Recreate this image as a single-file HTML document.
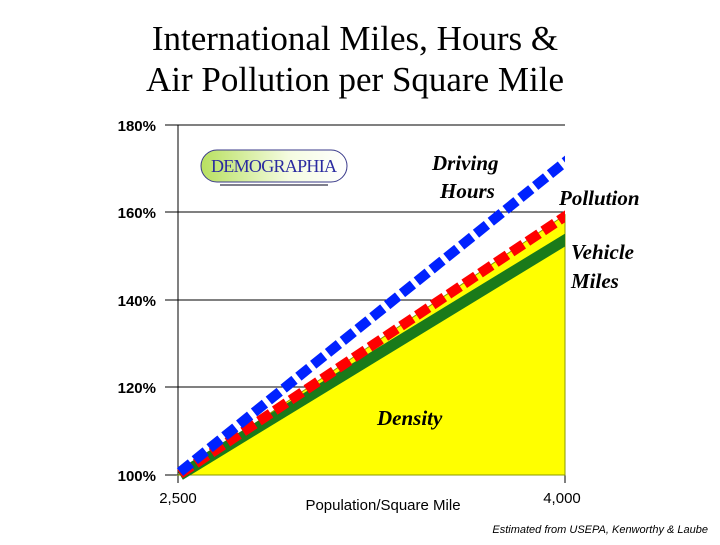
<!DOCTYPE html>
<html><head><style>
body{margin:0;background:#fff;}
</style></head><body>
<svg width="720" height="540" xmlns="http://www.w3.org/2000/svg">
<text x="355" y="50" text-anchor="middle" font-family="Liberation Serif, serif" font-size="35">International Miles, Hours &amp;</text>
<text x="355" y="91" text-anchor="middle" font-family="Liberation Serif, serif" font-size="35">Air Pollution per Square Mile</text>
<g stroke="#000" stroke-width="1">
<line x1="165" y1="125" x2="565" y2="125"/>
<line x1="165" y1="212" x2="565" y2="212"/>
<line x1="165" y1="300" x2="565" y2="300"/>
<line x1="165" y1="387" x2="565" y2="387"/>
<line x1="165" y1="475" x2="565" y2="475"/>
<line x1="178" y1="125" x2="178" y2="483"/>
<line x1="565" y1="475" x2="565" y2="483"/>
</g>
<clipPath id="c"><rect x="170" y="100" width="395" height="390"/></clipPath>
<polygon points="178,475 565,215 565,475" fill="#ffff00" stroke="#8a9a00" stroke-width="1"/>
<g clip-path="url(#c)">
<line x1="180" y1="475" x2="570" y2="237" stroke="#1a7a1a" stroke-width="11"/>
<line x1="180" y1="474" x2="570" y2="213" stroke="#ff0000" stroke-width="10" stroke-dasharray="14,5"/>
<line x1="180" y1="472" x2="570" y2="158" stroke="#0022ff" stroke-width="10" stroke-dasharray="14,5"/>
</g>
<g font-family="Liberation Sans, sans-serif" font-size="15" font-weight="bold" text-anchor="end">
<text x="156" y="131">180%</text><text x="156" y="218">160%</text><text x="156" y="306">140%</text><text x="156" y="393">120%</text><text x="156" y="481">100%</text>
</g>
<g font-family="Liberation Sans, sans-serif" font-size="15" text-anchor="middle">
<text x="178" y="503">2,500</text><text x="562" y="503">4,000</text><text x="383" y="510">Population/Square Mile</text>
</g>
<text x="708" y="533" text-anchor="end" font-family="Liberation Sans, sans-serif" font-size="11" font-style="italic">Estimated from USEPA, Kenworthy &amp; Laube</text>
<g font-family="Liberation Serif, serif" font-size="21" font-weight="bold" font-style="italic">
<text x="432" y="170">Driving</text><text x="440" y="198">Hours</text>
<text x="559" y="205">Pollution</text>
<text x="571" y="259">Vehicle</text><text x="571" y="288">Miles</text>
<text x="377" y="425">Density</text>
</g>
<defs><linearGradient id="g" x1="0" x2="1"><stop offset="0" stop-color="#b8e060"/><stop offset="0.6" stop-color="#f4fbe0"/><stop offset="1" stop-color="#fff"/></linearGradient></defs>
<rect x="201" y="150" width="146" height="32" rx="16" fill="url(#g)" stroke="#3a3a8a" stroke-width="1"/>
<text x="274" y="172" text-anchor="middle" font-family="Liberation Serif, serif" font-size="18" fill="#2a2aa0" textLength="126">DEMOGRAPHIA</text>
<line x1="220" y1="185" x2="328" y2="185" stroke="#556" stroke-width="1.5"/>
</svg>
</body></html>
